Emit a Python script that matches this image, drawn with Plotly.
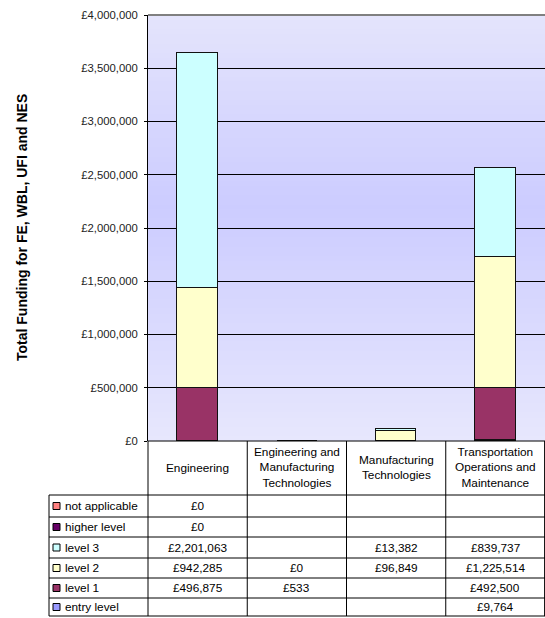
import plotly.graph_objects as go

# ---- data -------------------------------------------------------------
categories = [
    "Engineering",
    "Engineering and Manufacturing Technologies",
    "Manufacturing Technologies",
    "Transportation Operations and Maintenance",
]
header_labels = [
    "Engineering",
    "Engineering and<br>Manufacturing<br>Technologies",
    "Manufacturing<br>Technologies",
    "Transportation<br>Operations and<br>Maintenance",
]

# series in stacking order (bottom -> top)
series_names = ["entry level", "level 1", "level 2", "level 3", "higher level", "not applicable"]
entry_level = [None, None, None, 9764]
level_1 = [496875, 533, None, 492500]
level_2 = [942285, 0, 96849, 1225514]
level_3 = [2201063, None, 13382, 839737]
higher_level = [0, None, None, None]
not_applicable = [0, None, None, None]
series_values = [entry_level, level_1, level_2, level_3, higher_level, not_applicable]
series_colors = ["#9999FF", "#993366", "#FFFFCC", "#CCFFFF", "#660066", "#FF8080"]

y_max = 4000000
y_step = 500000

# ---- layout geometry (pixels) ----------------------------------------
W, H = 545, 618
ML, MR, MT, MB = 148, 0, 15, 177
PW, PH = W - ML - MR, H - MT - MB
FONT = "Arial, Liberation Sans, sans-serif"
TABLE_SIZE = 11.8


def px(x):
    return (x - ML) / PW


def py(y):
    return (H - MB - y) / PH


fig = go.Figure()

for name, vals, col in zip(series_names, series_values, series_colors):
    fig.add_trace(go.Bar(
        x=categories, y=vals, name=name, width=0.41,
        marker=dict(color=col, line=dict(color="#111111", width=1)),
        showlegend=False,
    ))

shapes = []

# plot-area background: soft vertical lavender gradient
stops = [(0.0, (231, 231, 253)), (0.55, (204, 204, 255)), (1.0, (228, 228, 252))]  # bottom -> top


def grad(t):
    for (t0, c0), (t1, c1) in zip(stops[:-1], stops[1:]):
        if t0 <= t <= t1:
            f = (t - t0) / (t1 - t0)
            return tuple(round(a + (b - a) * f) for a, b in zip(c0, c1))
    return stops[-1][1]


n_bands = 90
for i in range(n_bands):
    y0 = i / n_bands
    y1 = min(1.0, (i + 1.6) / n_bands)
    r, g, b = grad((i + 0.5) / n_bands)
    shapes.append(dict(type="rect", xref="paper", yref="paper", x0=0, x1=1, y0=y0, y1=y1,
                       fillcolor=f"rgb({r},{g},{b})", line=dict(width=0), layer="below"))

# grey top border of the plot area
shapes.append(dict(type="line", xref="paper", yref="paper", x0=0, x1=1, y0=1, y1=1,
                   line=dict(color="#808080", width=2)))

# ---- data table under the chart --------------------------------------
line_style = dict(color="#000000", width=1)
header_top, header_bot = H - MB, 495
row_edges = [495, 517, 537, 558, 578, 598, 616]
legend_left = 49
n_cat = len(categories)

# horizontal rules
shapes.append(dict(type="line", xref="paper", yref="paper", x0=0, x1=1,
                   y0=py(header_top), y1=py(header_top), line=line_style))
for ye in row_edges:
    shapes.append(dict(type="line", xref="paper", yref="paper", x0=px(legend_left), x1=1,
                       y0=py(ye), y1=py(ye), line=line_style))
# vertical rules
shapes.append(dict(type="line", xref="paper", yref="paper", x0=px(legend_left), x1=px(legend_left),
                   y0=py(row_edges[0]), y1=py(row_edges[-1]), line=line_style))
for i in range(n_cat + 1):
    xv = min(i / n_cat, 0.999)
    shapes.append(dict(type="line", xref="paper", yref="paper", x0=xv, x1=xv,
                       y0=py(header_top), y1=py(row_edges[-1]), line=line_style))

annotations = []
# column headers
for i, lab in enumerate(header_labels):
    annotations.append(dict(xref="paper", yref="paper", x=(i + 0.5) / n_cat,
                            y=py((header_top + header_bot) / 2), text=lab, showarrow=False,
                            font=dict(family=FONT, size=TABLE_SIZE, color="#000000"),
                            xanchor="center", yanchor="middle", align="center"))

# rows listed top -> bottom (reverse of stacking order)
for r, idx in enumerate(reversed(range(len(series_names)))):
    yc = py((row_edges[r] + row_edges[r + 1]) / 2)
    half = 3.5 / PH
    shapes.append(dict(type="rect", xref="paper", yref="paper", x0=px(53), x1=px(60),
                       y0=yc - half, y1=yc + half, fillcolor=series_colors[idx],
                       line=dict(color="#000000", width=1)))
    annotations.append(dict(xref="paper", yref="paper", x=px(63), y=yc,
                            text=series_names[idx], showarrow=False,
                            font=dict(family=FONT, size=TABLE_SIZE, color="#000000"),
                            xanchor="left", yanchor="middle"))
    for i, v in enumerate(series_values[idx]):
        if v is None:
            continue
        annotations.append(dict(xref="paper", yref="paper", x=(i + 0.5) / n_cat, y=yc,
                                text=f"£{v:,}", showarrow=False,
                                font=dict(family=FONT, size=TABLE_SIZE, color="#000000"),
                                xanchor="center", yanchor="middle"))

# rotated axis title
annotations.append(dict(xref="paper", yref="paper", x=px(22), y=0.5,
                        text="<b>Total Funding for FE, WBL, UFI and NES</b>", textangle=-90,
                        showarrow=False, font=dict(family=FONT, size=14, color="#000000"),
                        xanchor="center", yanchor="middle"))

fig.update_layout(
    width=W, height=H,
    margin=dict(l=ML, r=MR, t=MT, b=MB, pad=0),
    paper_bgcolor="#FFFFFF",
    plot_bgcolor="#E0E0FC",
    barmode="stack",
    bargap=0,
    showlegend=False,
    shapes=shapes,
    annotations=annotations,
    xaxis=dict(showticklabels=False, ticks="", showgrid=False, showline=False,
               zeroline=False, range=[-0.5, n_cat - 0.5], fixedrange=True),
    yaxis=dict(range=[0, y_max], dtick=y_step, tick0=0, tickprefix="£", tickformat=",d",
               showgrid=True, gridcolor="#000000", gridwidth=1,
               showline=True, linecolor="#000000", linewidth=1,
               ticks="outside", ticklen=3, tickcolor="#000000", ticklabelstandoff=4,
               zeroline=False, tickfont=dict(family=FONT, size=11.3, color="#222222"),
               fixedrange=True),
)

fig.write_html("out.html")
